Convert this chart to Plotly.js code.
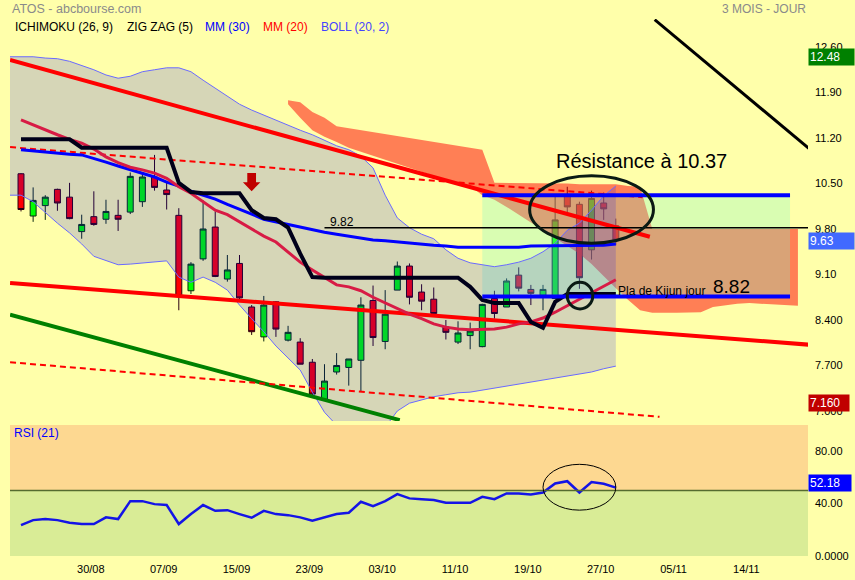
<!DOCTYPE html>
<html><head><meta charset="utf-8">
<script src="https://cdn.plot.ly/plotly-3.0.1.min.js"></script>
<style>html,body{margin:0;padding:0;background:#FFFFAA;}#chart{width:855px;height:580px;}</style>
</head><body><div id="chart"></div>
<script>
// ---- data ----
const dayIndex = [...Array(50).keys()];
const tickIdx = [6,12,18,24,30,36,42,48,54,60];
const tickLabels = ['30/08','07/09','15/09','23/09','03/10','11/10','19/10','27/10','05/11','14/11'];
const priceTicks = [12.6,11.9,11.2,10.5,9.8,9.1,8.4,7.7,7.0];
const priceTickText = ['12.60','11.90','11.20','10.50','9.80','9.10','8.400','7.700','7.000'];
const rsiTicks = [80,40,0];
const rsiTickText = ['80.00','40.00','0.0000'];

const opens  = [10.65,10.00,10.16,10.41,10.29,9.76,9.99,9.95,10.01,10.06,10.22,10.60,10.40,10.01,8.85,9.34,9.83,9.03,9.27,8.60,8.14,8.68,8.09,8.06,7.75,7.18,7.60,7.67,7.78,8.70,8.07,8.86,9.23,8.83,8.72,8.29,8.06,8.16,7.99,8.73,8.60,9.09,8.87,8.78,8.73,10.30,10.18,9.48,10.20,9.85];
const highs  = [10.66,10.44,10.32,10.42,10.51,10.02,10.38,10.25,10.25,10.67,10.67,10.94,10.51,10.12,9.29,10.24,10.07,9.40,9.40,8.63,8.77,8.69,8.31,8.12,7.80,7.72,7.89,7.80,8.75,8.93,8.86,9.30,9.27,8.95,8.90,8.40,8.38,8.36,8.65,8.85,9.04,9.21,8.94,8.94,10.30,10.45,10.22,10.39,10.36,9.96];
const lows   = [10.07,9.91,9.94,10.08,9.95,9.65,9.85,9.88,9.77,10.03,10.14,10.39,10.10,8.55,8.80,9.31,9.06,8.99,8.72,8.17,8.07,8.14,8.07,7.72,7.22,7.17,7.56,7.39,7.30,8.00,7.95,8.86,8.64,8.55,8.47,8.10,8.03,7.95,7.98,8.42,8.60,8.84,8.63,8.55,8.73,10.05,8.88,9.33,9.94,9.55];
const closes = [10.10,10.24,10.29,10.20,9.96,9.87,9.87,10.07,9.95,10.61,10.60,10.44,10.33,8.77,9.26,9.80,9.07,9.17,8.74,8.22,8.63,8.26,8.21,7.72,7.26,7.46,7.70,7.80,8.63,8.13,8.49,9.23,8.75,8.69,8.50,8.21,8.20,8.23,8.64,8.50,9.00,8.89,8.81,8.87,9.94,10.14,9.05,10.27,10.11,9.63];

const bandIdx = [-1, ...dayIndex];
const bbUpper = [12.45, 12.45,12.45,12.43,12.42,12.38,12.32,12.25,12.17,12.12,12.15, 12.22,12.25,12.28,12.28,12.22,12.09,11.97,11.85,11.72,11.63, 11.55,11.48,11.40,11.32,11.25,11.17,11.08,11.02,10.92,10.74, 10.32,9.97,9.82,9.72,9.65,9.48,9.35,9.28,9.25,9.22, 9.25,9.29,9.35,9.45,9.58,9.78,9.89,10.09,10.31,10.46];
const bbLower = [10.32, 10.32,10.22,10.05,9.89,9.74,9.57,9.38,9.32,9.25,9.26, 9.28,9.29,9.31,9.06,8.98,9.06,8.98,8.86,8.63,8.42, 8.22,8.00,7.82,7.63,7.29,6.98,6.78,6.63,6.55,6.55, 6.75,7.00,7.12,7.17,7.22,7.25,7.28,7.29,7.32,7.35, 7.38,7.42,7.45,7.48,7.51,7.54,7.57,7.60,7.65,7.69];

const mm30 = [11.02,11.00,10.98,10.97,10.95,10.94,10.89,10.83,10.77,10.71, 10.66,10.60,10.52,10.46,10.38,10.32,10.26,10.18,10.11,10.03, 9.95,9.91,9.86,9.82,9.78,9.75,9.72,9.69,9.66,9.63, 9.62,9.60,9.58,9.57,9.55,9.54,9.52,9.52,9.52,9.52, 9.52,9.52,9.54,9.54,9.55,9.55,9.55,9.55,9.55,9.57];
const mm20 = [11.48,11.40,11.32,11.25,11.18,11.12,11.03,10.91,10.82,10.75, 10.71,10.66,10.58,10.45,10.35,10.22,10.09,10.02,9.91,9.80, 9.69,9.60,9.45,9.29,9.17,9.05,8.94,8.91,8.85,8.75, 8.66,8.57,8.49,8.42,8.34,8.29,8.26,8.25,8.25,8.26, 8.29,8.34,8.37,8.43,8.52,8.62,8.71,8.82,8.92,9.02];
const kijun = [11.18,11.18,11.18,11.18,11.18, 11.05,11.05,11.05,11.05,11.05,11.05,11.05,11.05, 10.51,10.37,10.35,10.35,10.35,10.35,10.09,9.97,9.95,9.82,9.42,9.06, 9.05,9.05,9.05,9.05,9.05,9.05,9.05,9.05,9.05,9.05,9.05,9.05, 8.91,8.71,8.66,8.66,8.66,8.37,8.28,8.68, 8.80,8.80,8.80,8.80,8.80];

const cloudIdx = [...Array(43).keys()].map(k => k + 22);
const cloudTop = [11.78,11.75,11.60,11.51,11.38,11.35,11.32,11.29,11.26,11.23,11.20,11.17,11.14,11.11,11.08,11.05,11.02, 10.51,10.51,10.51,10.50,10.50,10.50,10.50,10.49,10.49,10.49,10.49,10.46,10.45, 9.80,9.80,9.80,9.80,9.80,9.80,9.80,9.80,9.80,9.80,9.80,9.80,9.80];
const cloudBottom = [11.72,11.51,11.32,11.22,11.14,11.05,10.98,10.92,10.86,10.80,10.74,10.68,10.62,10.57,10.52,10.46,10.32, 10.25,10.14,10.02,9.91,9.78,9.66,9.54,9.42,9.26,9.08,8.89,8.71,8.55, 8.51,8.51,8.51,8.51,8.52,8.60,8.63,8.65,8.66,8.66,8.65,8.63,8.62];

const rsi = [23.6,27.4,28.2,27.4,25.4,24.4,24.4,29.5,28.2,41.9, 41.9,39.6,38.9,24.4,32.0,38.9,34.5,35.0,32.0,29.2, 34.5,32.0,31.2,29.5,26.9,29.5,32.0,33.0,41.4,38.1, 41.9,47.2,44.0,43.4,42.7,40.6,40.6,40.6,45.2,43.4, 47.8,47.8,47.0,48.4,55.4,57.1,48.5,56.4,55.1,52.18];

// drawn lines (index, price)
const resistTrendIdx = [-0.9, 51.8], resistTrendVal = [12.40, 9.68];
const supportTrendIdx = [-0.9, 64.9], supportTrendVal = [8.97, 8.02];
const upperDashIdx = [-0.9, 51.2], upperDashVal = [11.06, 10.29];
const lowerDashIdx = [-0.9, 52.6], lowerDashVal = [7.75, 6.91];
const greenTrendIdx = [-0.9, 31.2], greenTrendVal = [8.48, 6.86];
const blackDiagIdx = [52.2, 64.9], blackDiagVal = [13.02, 11.04];
const level982Idx = [25.0, 64.9], level982Val = [9.82, 9.82];
const boxIdx = [38, 63.35];
const resistanceLevel = 10.32, kijunLevel = 8.76;
const signalIdx = 19, signalTop = 10.66, signalMid = 10.52, signalTip = 10.38;

// ---- traces ----
const M = {xaxis:'x', yaxis:'y', hoverinfo:'skip', showlegend:false};
const traces = [];
traces.push(Object.assign({type:'candlestick', x:dayIndex, open:opens, high:highs, low:lows, close:closes,
  increasing:{fillcolor:'#00FF00', line:{color:'#0a2a10', width:1}},
  decreasing:{fillcolor:'#FF0000', line:{color:'#2a0010', width:1}},
  whiskerwidth:0}, M));
// Ichimoku cloud: translucent red over the price bars
traces.push(Object.assign({type:'scatter', mode:'lines',
  x: cloudIdx.concat(cloudIdx.slice().reverse()),
  y: cloudTop.concat(cloudBottom.slice().reverse()),
  fill:'toself', fillcolor:'rgba(255,0,0,0.5)', line:{width:0, color:'rgba(0,0,0,0)'}}, M));
traces.push(Object.assign({type:'scatter', mode:'lines',
  x:[boxIdx[0],boxIdx[1],boxIdx[1],boxIdx[0]],
  y:[resistanceLevel,resistanceLevel,kijunLevel,kijunLevel],
  fill:'toself', fillcolor:'rgba(130,250,200,0.3)', line:{width:0, color:'rgba(0,0,0,0)'}}, M));
traces.push(Object.assign({type:'scatter', mode:'lines', x:bandIdx, y:bbUpper, line:{color:'#6a6aff', width:1}}, M));
traces.push(Object.assign({type:'scatter', mode:'lines', x:bandIdx, y:bbLower, line:{color:'#6a6aff', width:1},
  fill:'tonexty', fillcolor:'rgba(0,0,255,0.16)'}, M));
const seg = (xs, ys, color, width, dash) => traces.push(Object.assign({type:'scatter', mode:'lines', x:xs, y:ys, line:{color, width, dash: dash||'solid'}}, M));
seg(greenTrendIdx, greenTrendVal, '#008000', 4);
seg(lowerDashIdx, lowerDashVal, '#FF0000', 2, '6px,4px');
seg(upperDashIdx, upperDashVal, '#FF0000', 2, '6px,4px');
seg(supportTrendIdx, supportTrendVal, '#FF0000', 4);
seg(resistTrendIdx, resistTrendVal, '#FF0000', 4);
seg(blackDiagIdx, blackDiagVal, '#000000', 3);
seg(dayIndex, mm30, '#0000FF', 3);
seg(dayIndex, mm20, '#D81B45', 3);
seg(dayIndex, kijun, '#00001a', 4);
seg(level982Idx, level982Val, '#000000', 1.5);
seg(boxIdx, [resistanceLevel,resistanceLevel], '#0000FF', 4);
seg(boxIdx, [kijunLevel,kijunLevel], '#0000FF', 4);
traces.push({type:'scatter', mode:'lines', x:dayIndex, y:rsi, xaxis:'x', yaxis:'y2', line:{color:'#1414E6', width:2.5}, hoverinfo:'skip', showlegend:false});

// arrow path built from signal values
const aw = 0.36, hw = 0.72;
const arrowPath = `M${signalIdx-aw},${signalTop} L${signalIdx+aw},${signalTop} L${signalIdx+aw},${signalMid} L${signalIdx+hw},${signalMid} L${signalIdx},${signalTip} L${signalIdx-hw},${signalMid} L${signalIdx-aw},${signalMid} Z`;

const shapes = [
  {type:'rect', xref:'paper', yref:'y2', x0:0, x1:1, y0:50, y1:100, fillcolor:'#FDD891', line:{width:0}, layer:'below'},
  {type:'rect', xref:'paper', yref:'y2', x0:0, x1:1, y0:-1, y1:50, fillcolor:'#D9EC96', line:{width:0}, layer:'below'},
  {type:'line', xref:'paper', yref:'y2', x0:0, x1:1, y0:50, y1:50, line:{color:'#556B2F', width:1.5}},
  {type:'path', xref:'x', yref:'y', path:arrowPath, fillcolor:'#C00000', line:{width:0}},
  {type:'circle', xref:'x', yref:'y', x0:41.9, x1:52.1, y0:9.58, y1:10.62, line:{color:'#0a1a14', width:3}},
  {type:'circle', xref:'x', yref:'y', x0:45.0, x1:47.1, y0:8.57, y1:8.98, line:{color:'#0a1a14', width:3}},
  {type:'circle', xref:'x', yref:'y2', x0:43.0, x1:49.0, y0:35, y1:70, line:{color:'#000', width:1}}
];

const py = p => (556 - p) / 537; // paper y from pixel row
const px = p => (p - 10) / 798;
const ann = (x, y, text, color, size, xanchor, extra) => Object.assign({xref:'paper', yref:'paper', x:px(x), y:py(y), text, showarrow:false, xanchor:xanchor||'left', yanchor:'middle', font:{color, size}}, extra||{});
const annotations = [
  ann(10, 9, 'ATOS - abcbourse.com', '#8a8a8a', 12.5),
  ann(808, 9, '3 MOIS - JOUR', '#8a8a8a', 12, 'right'),
  ann(13, 27, 'ICHIMOKU (26, 9)', '#000', 12),
  ann(125, 27, 'ZIG ZAG (5)', '#000', 12),
  ann(203, 27, 'MM (30)', '#0000FF', 12),
  ann(261, 27, 'MM (20)', '#FF0000', 12),
  ann(319, 27, 'BOLL (20, 2)', '#4444FF', 12),
  ann(12, 433, 'RSI (21)', '#0000FF', 12),
  {xref:'x', yref:'y', x:51.15, y:10.85, text:'Résistance à 10.37', showarrow:false, font:{size:20, color:'#000'}},
  {xref:'x', yref:'y', x:49.05, y:8.85, text:'Pla de Kijun jour', showarrow:false, xanchor:'left', font:{size:12, color:'#000'}},
  {xref:'x', yref:'y', x:56.8, y:8.91, text:'8.82', showarrow:false, xanchor:'left', font:{size:19, color:'#000'}},
  {xref:'x', yref:'y', x:25.3, y:9.91, text:'9.82', showarrow:false, xanchor:'left', font:{size:12, color:'#000'}},
  {xref:'paper', yref:'y', x:1, y:12.44, text:'12.48', showarrow:false, xanchor:'left', align:'left', width:43, bgcolor:'#008000', borderpad:1, font:{size:12, color:'#fff'}},
  {xref:'paper', yref:'y', x:1, y:9.61, text:'9.63', showarrow:false, xanchor:'left', align:'left', width:43, bgcolor:'#4169FF', borderpad:1, font:{size:12, color:'#fff'}},
  {xref:'paper', yref:'y', x:1, y:7.12, text:'7.160', showarrow:false, xanchor:'left', align:'left', width:38, bgcolor:'#C00000', borderpad:1, font:{size:12, color:'#fff'}},
  {xref:'paper', yref:'y2', x:1, y:55.7, text:'52.18', showarrow:false, xanchor:'left', align:'left', width:40, bgcolor:'#0000FF', borderpad:1, font:{size:12, color:'#fff'}}
];

const layout = {
  width:855, height:580,
  margin:{l:10, r:47, t:19, b:24, pad:0},
  paper_bgcolor:'#FFFFAA', plot_bgcolor:'#FFFFAA',
  font:{family:'"Liberation Sans", Arial, sans-serif', size:11, color:'#000'},
  showlegend:false,
  xaxis:{range:[-0.906, 64.83], anchor:'y2', tickmode:'array', tickvals:tickIdx, ticktext:tickLabels, showgrid:false, zeroline:false, showline:false, ticks:'', rangeslider:{visible:false}, tickfont:{size:11}, ticklabelstandoff:5, ticklabelshift:-3},
  yaxis:{domain:[0.2514,1], range:[6.846,13.031], side:'right', anchor:'x', tickmode:'array', tickvals:priceTicks, ticktext:priceTickText, showgrid:false, zeroline:false, showline:false, ticks:'', ticklabelstandoff:6, tickfont:{size:11}},
  yaxis2:{domain:[0,0.2439], range:[0,100], side:'right', anchor:'x', tickmode:'array', tickvals:rsiTicks, ticktext:rsiTickText, showgrid:false, zeroline:false, showline:false, ticks:'', ticklabelstandoff:6, tickfont:{size:11}},
  shapes, annotations
};
Plotly.newPlot('chart', traces, layout, {staticPlot:true, displayModeBar:false});
</script></body></html>
